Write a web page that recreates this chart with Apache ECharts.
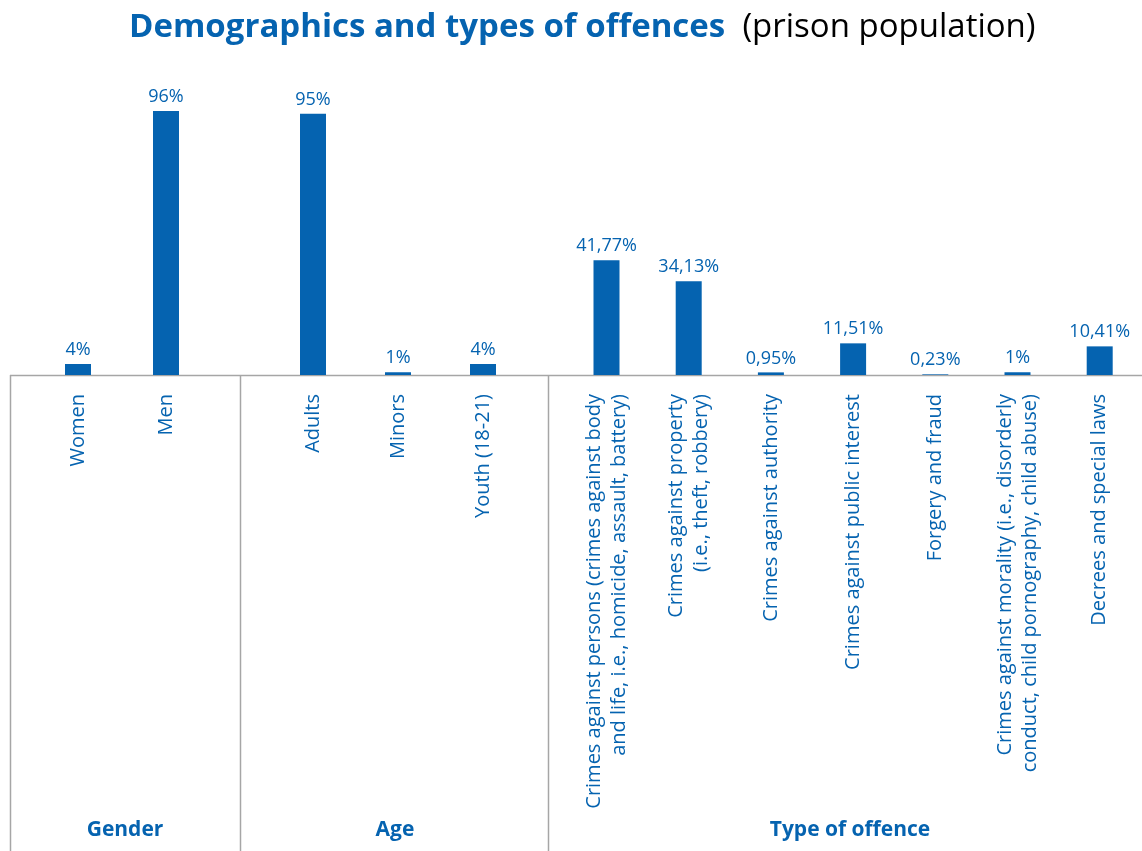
<!DOCTYPE html>
<html>
<head>
<meta charset="utf-8">
<script src="https://cdn.jsdelivr.net/npm/echarts@6/dist/echarts.min.js"></script>
<style>
html,body{margin:0;padding:0;background:#fff;}
#chart{width:1142px;height:851px;}
</style>
</head>
<body>
<div id="chart"></div>
<script>
const genderCategories = ['Women', 'Men'];
const genderValues = [4, 96];
const ageCategories = ['Adults', 'Minors', 'Youth (18-21)'];
const ageValues = [95, 1, 4];
const offenceCategories = [
  'Crimes against persons (crimes against body\nand life, i.e., homicide, assault, battery)',
  'Crimes against property\n(i.e., theft, robbery)',
  'Crimes against authority',
  'Crimes against public interest',
  'Forgery and fraud',
  'Crimes against morality (i.e., disorderly\nconduct, child pornography, child abuse)',
  'Decrees and special laws'
];
const offenceValues = [41.77, 34.13, 0.95, 11.51, 0.23, 1, 10.41];
const groupLabels = ['Gender', 'Age', 'Type of offence'];
const titleMain = 'Demographics and types of offences';
const titleSub = '(prison population)';

const BLUE = '#0563b0';
const FONT = '"Open Sans", sans-serif';
const chart = echarts.init(document.getElementById('chart'));

const fmt = v => String(v).replace('.', ',') + '%';

const grids = [
  {left: 34, width: 176, top: 100, bottom: 476},
  {left: 270.5, width: 255, top: 100, bottom: 476},
  {left: 565.4, width: 575.4, top: 100, bottom: 476}
];
const cats = [genderCategories, ageCategories, offenceCategories];
const vals = [genderValues, ageValues, offenceValues];

const xAxes = cats.map((c, i) => ({
  type: 'category', gridIndex: i, data: c,
  axisLine: {show: false}, axisTick: {show: false},
  axisLabel: {interval: 0, rotate: 90, margin: 19, color: BLUE, fontSize: 20, fontFamily: FONT, lineHeight: 25}
}));
const yAxes = cats.map((c, i) => ({
  type: 'value', gridIndex: i, min: 0, max: 100, show: false
}));
const series = vals.map((v, i) => ({
  type: 'bar', xAxisIndex: i, yAxisIndex: i, data: v, barWidth: 26,
  itemStyle: {color: BLUE},
  label: {show: true, position: 'top', distance: 5, color: BLUE, fontSize: 18, fontFamily: FONT, formatter: p => fmt(p.value)}
}));

const lineStyle = {stroke: '#a6a6a6', lineWidth: 1.5};
const groupFont = 'bold 21px ' + FONT;
const graphic = [
  {type: 'line', shape: {x1: 10, y1: 375.5, x2: 1142, y2: 375.5}, style: lineStyle},
  {type: 'line', shape: {x1: 10.5, y1: 375, x2: 10.5, y2: 851}, style: lineStyle},
  {type: 'line', shape: {x1: 240.5, y1: 375, x2: 240.5, y2: 851}, style: lineStyle},
  {type: 'line', shape: {x1: 548.5, y1: 375, x2: 548.5, y2: 851}, style: lineStyle},
  {type: 'text', x: 125, y: 830, style: {text: groupLabels[0], fill: BLUE, font: groupFont, textAlign: 'center', textVerticalAlign: 'middle'}},
  {type: 'text', x: 395, y: 830, style: {text: groupLabels[1], fill: BLUE, font: groupFont, textAlign: 'center', textVerticalAlign: 'middle'}},
  {type: 'text', x: 850, y: 830, style: {text: groupLabels[2], fill: BLUE, font: groupFont, textAlign: 'center', textVerticalAlign: 'middle'}}
];

chart.setOption({
  animation: false,
  title: {
    text: '{a|' + titleMain + '}{b|  ' + titleSub + '}',
    left: 124, top: 6,
    textStyle: {
      rich: {
        a: {fontSize: 33, fontWeight: 'bold', color: BLUE, fontFamily: FONT},
        b: {fontSize: 33, fontWeight: 'normal', color: '#000', fontFamily: FONT}
      }
    }
  },
  grid: grids,
  xAxis: xAxes,
  yAxis: yAxes,
  series: series,
  graphic: graphic
});
</script>
</body>
</html>
